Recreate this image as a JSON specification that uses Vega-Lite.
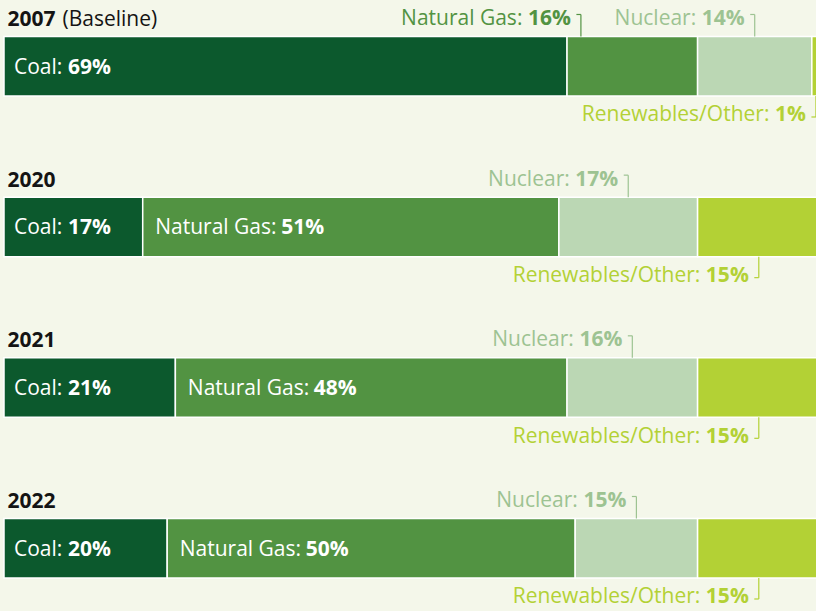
{
  "$schema": "https://vega.github.io/schema/vega-lite/v6.json",
  "width": 816,
  "height": 611,
  "autosize": {"type": "none"},
  "padding": 0,
  "background": "#f4f7ea",
  "config": {"view": {"stroke": null}, "text": {"font": "Open Sans", "fontSize": 21}, "rule": {"strokeWidth": 1.2}},
  "datasets": {
    "mix": [
      {"year": "2007", "source": "Coal", "share": 69},
      {"year": "2007", "source": "Natural Gas", "share": 16},
      {"year": "2007", "source": "Nuclear", "share": 14},
      {"year": "2007", "source": "Renewables/Other", "share": 1},
      {"year": "2020", "source": "Coal", "share": 17},
      {"year": "2020", "source": "Natural Gas", "share": 51},
      {"year": "2020", "source": "Nuclear", "share": 17},
      {"year": "2020", "source": "Renewables/Other", "share": 15},
      {"year": "2021", "source": "Coal", "share": 21},
      {"year": "2021", "source": "Natural Gas", "share": 48},
      {"year": "2021", "source": "Nuclear", "share": 16},
      {"year": "2021", "source": "Renewables/Other", "share": 15},
      {"year": "2022", "source": "Coal", "share": 20},
      {"year": "2022", "source": "Natural Gas", "share": 50},
      {"year": "2022", "source": "Nuclear", "share": 15},
      {"year": "2022", "source": "Renewables/Other", "share": 15}
    ],
    "years": [
      {"year": "2007", "note": "(Baseline)"},
      {"year": "2020", "note": ""},
      {"year": "2021", "note": ""},
      {"year": "2022", "note": ""}
    ]
  },
  "layer": [
    {
      "data": {"name": "years"},
      "encoding": {
        "x": {"datum": 0, "type": "quantitative", "axis": null, "scale": {"domain": [-0.49, 99.51], "nice": false, "zero": false}},
        "y": {"field": "year", "type": "nominal", "axis": null, "bandPosition": 0, "scale": {"domain": ["2007", "2020", "2021", "2022"], "paddingInner": 0.6297, "paddingOuter": 0.2163, "align": 0.525}}
      },
      "layer": [
        {"mark": {"type": "text", "align": "left", "baseline": "alphabetic", "dx": 3.5, "dy": -10.5, "fontWeight": "bold", "fill": "#141414"}, "encoding": {"text": {"field": "year"}}},
        {"mark": {"type": "text", "align": "left", "baseline": "alphabetic", "dx": 58.5, "dy": -10.5, "fill": "#141414"}, "encoding": {"text": {"field": "note"}}}
      ]
    },
    {
      "data": {"name": "mix"},
      "transform": [
        {"stack": "share", "groupby": ["year"], "sort": [{"field": "source", "order": "ascending"}], "as": ["x0", "x1"]},
        {"calculate": "(datum.x0 + datum.x1) / 2", "as": "mid"},
        {"calculate": "datum.source + ':'", "as": "prefix"},
        {"calculate": "datum.share + '%'", "as": "value"}
      ],
      "layer": [
        {
          "mark": {"type": "bar", "stroke": "#ffffff", "strokeWidth": 1.5},
          "encoding": {
            "x": {"field": "x0", "type": "quantitative", "axis": null, "scale": {"domain": [-0.49, 99.51], "nice": false, "zero": false}},
            "x2": {"field": "x1"},
            "y": {"field": "year", "type": "nominal", "axis": null, "scale": {"domain": ["2007", "2020", "2021", "2022"], "paddingInner": 0.6297, "paddingOuter": 0.2163, "align": 0.525}},
            "color": {"field": "source", "type": "nominal", "legend": null, "scale": {"domain": ["Coal", "Natural Gas", "Nuclear", "Renewables/Other"], "range": ["#0c592d", "#529342", "#bbd7b4", "#b3d135"]}}
          }
        },
        {
          "transform": [{"filter": "datum.source === 'Coal' || (datum.source === 'Natural Gas' && datum.share >= 20)"}],
          "encoding": {
            "x": {"field": "x0", "type": "quantitative", "axis": null, "scale": {"domain": [-0.49, 99.51], "nice": false, "zero": false}},
            "y": {"field": "year", "type": "nominal", "axis": null, "scale": {"domain": ["2007", "2020", "2021", "2022"], "paddingInner": 0.6297, "paddingOuter": 0.2163, "align": 0.525}}
          },
          "layer": [
            {"transform": [{"filter": "datum.source === 'Coal'"}], "mark": {"type": "text", "align": "left", "baseline": "alphabetic", "dx": 10, "dy": 7.5, "fill": "#ffffff"}, "encoding": {"text": {"field": "prefix"}}},
            {"transform": [{"filter": "datum.source === 'Coal'"}], "mark": {"type": "text", "align": "left", "baseline": "alphabetic", "dx": 64, "dy": 7.5, "fill": "#ffffff", "fontWeight": "bold"}, "encoding": {"text": {"field": "value"}}},
            {"transform": [{"filter": "datum.source === 'Natural Gas'"}], "mark": {"type": "text", "align": "left", "baseline": "alphabetic", "dx": 12.5, "dy": 7.5, "fill": "#ffffff"}, "encoding": {"text": {"field": "prefix"}}},
            {"transform": [{"filter": "datum.source === 'Natural Gas'"}], "mark": {"type": "text", "align": "left", "baseline": "alphabetic", "dx": 138.5, "dy": 7.5, "fill": "#ffffff", "fontWeight": "bold"}, "encoding": {"text": {"field": "value"}}}
          ]
        },
        {
          "transform": [
            {"filter": "datum.source === 'Nuclear' || (datum.source === 'Natural Gas' && datum.share < 20)"},
            {"calculate": "datum.source === 'Natural Gas' ? datum.x0 + 1.7 : datum.mid", "as": "anchor"}
          ],
          "encoding": {
            "x": {"field": "anchor", "type": "quantitative", "axis": null, "scale": {"domain": [-0.49, 99.51], "nice": false, "zero": false}},
            "y": {"field": "year", "type": "nominal", "axis": null, "bandPosition": 0, "scale": {"domain": ["2007", "2020", "2021", "2022"], "paddingInner": 0.6297, "paddingOuter": 0.2163, "align": 0.525}}
          },
          "layer": [
            {"mark": {"type": "text", "align": "right", "baseline": "alphabetic", "dx": -10, "dy": -11.5, "fontWeight": "bold"}, "encoding": {"text": {"field": "value"}, "fill": {"field": "source", "type": "nominal", "legend": null, "scale": {"domain": ["Coal", "Natural Gas", "Nuclear", "Renewables/Other"], "range": ["#0c592d", "#529342", "#9dc392", "#b3d135"]}}}},
            {"mark": {"type": "text", "align": "right", "baseline": "alphabetic", "dx": -58.5, "dy": -11.5}, "encoding": {"text": {"field": "prefix"}, "fill": {"field": "source", "type": "nominal", "legend": null, "scale": {"domain": ["Coal", "Natural Gas", "Nuclear", "Renewables/Other"], "range": ["#0c592d", "#529342", "#9dc392", "#b3d135"]}}}},
            {"mark": {"type": "rule", "yOffset": -22}, "encoding": {"y2": {"field": "year", "bandPosition": 0}, "stroke": {"field": "source", "type": "nominal", "legend": null, "scale": {"domain": ["Coal", "Natural Gas", "Nuclear", "Renewables/Other"], "range": ["#0c592d", "#529342", "#9dc392", "#b3d135"]}}}},
            {"mark": {"type": "rule", "xOffset": -4.5, "yOffset": -22}, "encoding": {"x2": {"field": "anchor"}, "stroke": {"field": "source", "type": "nominal", "legend": null, "scale": {"domain": ["Coal", "Natural Gas", "Nuclear", "Renewables/Other"], "range": ["#0c592d", "#529342", "#9dc392", "#b3d135"]}}}}
          ]
        },
        {
          "transform": [{"filter": "datum.source === 'Renewables/Other'"}],
          "encoding": {
            "x": {"field": "mid", "type": "quantitative", "axis": null, "scale": {"domain": [-0.49, 99.51], "nice": false, "zero": false}},
            "y": {"field": "year", "type": "nominal", "axis": null, "bandPosition": 1, "scale": {"domain": ["2007", "2020", "2021", "2022"], "paddingInner": 0.6297, "paddingOuter": 0.2163, "align": 0.525}}
          },
          "layer": [
            {"mark": {"type": "text", "align": "right", "baseline": "alphabetic", "dx": -10, "dy": 25.5, "fontWeight": "bold"}, "encoding": {"text": {"field": "value"}, "fill": {"field": "source", "type": "nominal", "legend": null, "scale": {"domain": ["Coal", "Natural Gas", "Nuclear", "Renewables/Other"], "range": ["#0c592d", "#529342", "#9dc392", "#b3d135"]}}}},
            {"transform": [{"filter": "datum.share >= 10"}], "mark": {"type": "text", "align": "right", "baseline": "alphabetic", "dx": -58.5, "dy": 25.5}, "encoding": {"text": {"field": "prefix"}, "fill": {"field": "source", "type": "nominal", "legend": null, "scale": {"domain": ["Coal", "Natural Gas", "Nuclear", "Renewables/Other"], "range": ["#0c592d", "#529342", "#9dc392", "#b3d135"]}}}},
            {"transform": [{"filter": "datum.share < 10"}], "mark": {"type": "text", "align": "right", "baseline": "alphabetic", "dx": -46.5, "dy": 25.5}, "encoding": {"text": {"field": "prefix"}, "fill": {"field": "source", "type": "nominal", "legend": null, "scale": {"domain": ["Coal", "Natural Gas", "Nuclear", "Renewables/Other"], "range": ["#0c592d", "#529342", "#9dc392", "#b3d135"]}}}},
            {"mark": {"type": "rule", "y2Offset": 21}, "encoding": {"y2": {"field": "year", "bandPosition": 1}, "stroke": {"field": "source", "type": "nominal", "legend": null, "scale": {"domain": ["Coal", "Natural Gas", "Nuclear", "Renewables/Other"], "range": ["#0c592d", "#529342", "#9dc392", "#b3d135"]}}}},
            {"mark": {"type": "rule", "xOffset": -4.5, "yOffset": 21}, "encoding": {"x2": {"field": "mid"}, "stroke": {"field": "source", "type": "nominal", "legend": null, "scale": {"domain": ["Coal", "Natural Gas", "Nuclear", "Renewables/Other"], "range": ["#0c592d", "#529342", "#9dc392", "#b3d135"]}}}}
          ]
        }
      ]
    }
  ]
}
